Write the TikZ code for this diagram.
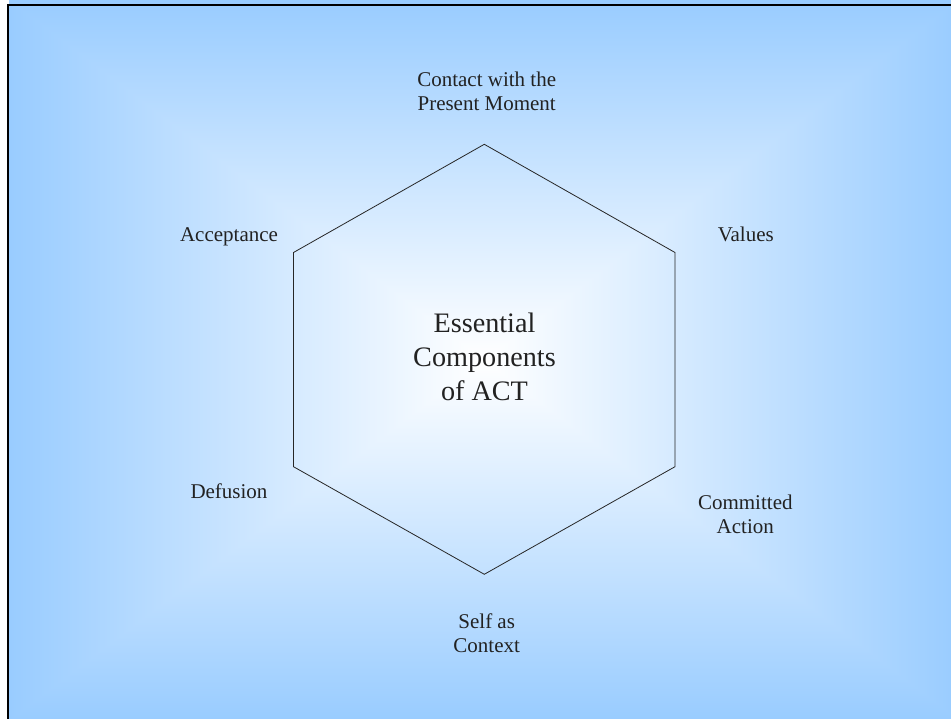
\documentclass[tikz,border=0pt]{standalone}
\usepackage{fontspec}
\setmainfont{Liberation Serif}
\pgfdeclarefunctionalshading{rectgrad}{\pgfpoint{-50bp}{-50bp}}{\pgfpoint{50bp}{50bp}}{}{
abs exch abs 2 copy lt {exch} if pop 25 div dup 1 gt {pop 1} if
dup 0.4 mul 1 exch sub exch 0.2 mul 1 exch sub 1
}
\definecolor{txt}{HTML}{222222}
\tikzset{
  lbl/.style={anchor=base, align=center, text=txt, inner sep=0pt,
    font=\fontsize{21}{24.3}\selectfont},
  ctr/.style={anchor=base, align=center, text=txt, inner sep=0pt,
    font=\fontsize{28.2}{33.8}\selectfont},
  hexline/.style={draw=black!85, line width=0.8pt, line join=miter}
}
\begin{document}
\begin{tikzpicture}[x=1pt,y=-1pt]
\useasboundingbox (0,0) rectangle (951,719);
\begin{scope}
\clip (0,0) rectangle (951,719);
\shade[shading=rectgrad] (9,0) rectangle (959,720);
\draw[line width=2.2pt] (8,5) rectangle (965,730);
\end{scope}
\coordinate (t) at (484.3,144.3);
\coordinate (ur) at (675,252.5);
\coordinate (lr) at (675,466.7);
\coordinate (b) at (484.3,574.3);
\coordinate (ll) at (293.5,466.7);
\coordinate (ul) at (293.5,252.5);
\draw[hexline] (t) -- (ur) -- (lr) -- (b) -- (ll) -- (ul) -- cycle;
\node[ctr] (center) at (484.5,400) {Essential\\Components\\of ACT};
\node[lbl] (contact) at (486.7,110.7) {Contact with the\\Present Moment};
\node[lbl] (accept) at (229,241.7) {Acceptance};
\node[lbl] (values) at (745.8,241.7) {Values};
\node[lbl] (defusion) at (229,498.3) {Defusion};
\node[lbl] (committed) at (745.3,533.3) {Committed\\Action};
\node[lbl] (self) at (486.7,652.7) {Self as\\Context};
\end{tikzpicture}
\end{document}
